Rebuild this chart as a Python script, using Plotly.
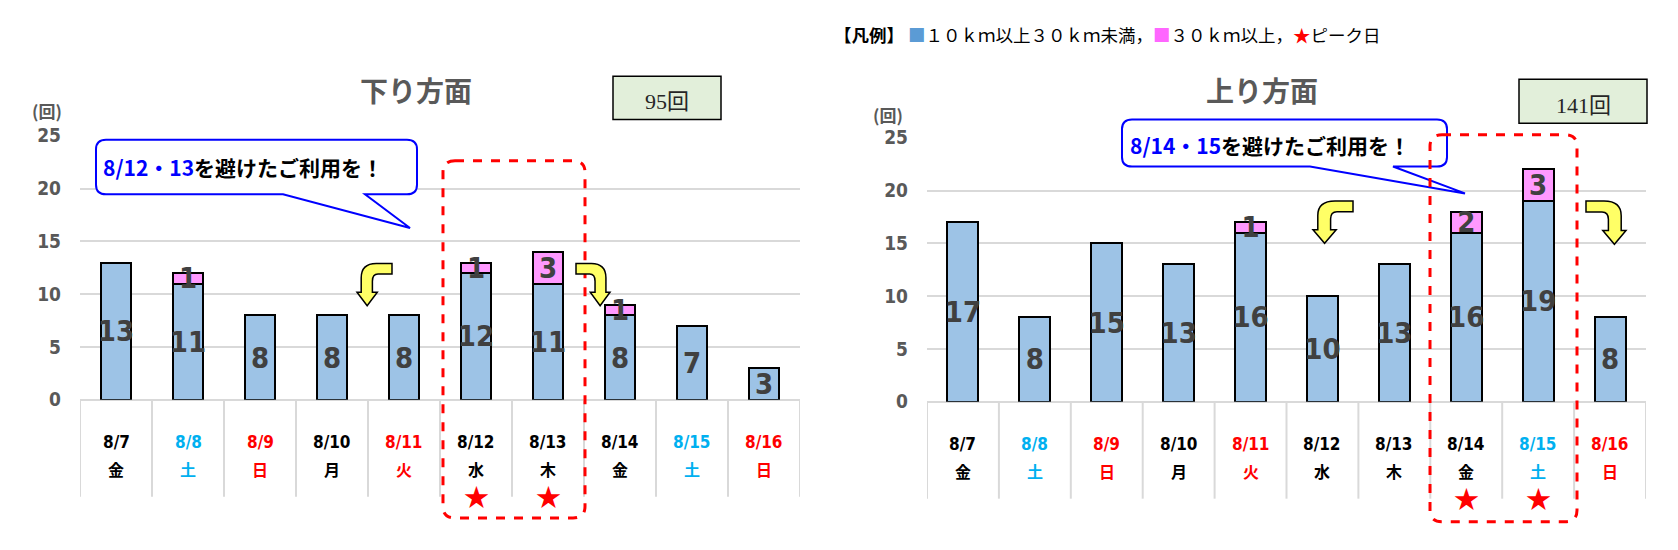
import plotly.graph_objects as go

W, H = 1678, 550

# ---- data ----
dates = ["8/7", "8/8", "8/9", "8/10", "8/11", "8/12", "8/13", "8/14", "8/15", "8/16"]
weekdays = ["金", "土", "日", "月", "火", "水", "木", "金", "土", "日"]
day_colors = ["#000000", "#00b0f0", "#ff0000", "#000000", "#ff0000",
              "#000000", "#000000", "#000000", "#00b0f0", "#ff0000"]

down_10_30 = [13, 11, 8, 8, 8, 12, 11, 8, 7, 3]
down_30 = [0, 1, 0, 0, 0, 1, 3, 1, 0, 0]
down_peak = ["8/12", "8/13"]

up_10_30 = [17, 8, 15, 13, 16, 10, 13, 16, 19, 8]
up_30 = [0, 0, 0, 0, 1, 0, 0, 2, 3, 0]
up_peak = ["8/14", "8/15"]

BLUE = "#9dc3e6"
PINK = "#ff99ff"
NUM_FONT = "Liberation Sans Narrow, DejaVu Sans Condensed, Arial Narrow, sans-serif"
JP_FONT = "Noto Sans CJK JP, sans-serif"


def X(x):
    return x / W


def Y(y):
    return 1 - y / H


def pt(x, y):
    return f"{X(x):.5f},{Y(y):.5f}"


def rounded_path(x0, y0, x1, y1, r, tail=None):
    p = f"M {pt(x0 + r, y0)} L {pt(x1 - r, y0)} Q {pt(x1, y0)} {pt(x1, y0 + r)} "
    p += f"L {pt(x1, y1 - r)} Q {pt(x1, y1)} {pt(x1 - r, y1)} "
    if tail:
        ta, tb, tx, ty = tail
        p += f"L {pt(tb, y1)} L {pt(tx, ty)} L {pt(ta, y1)} "
    p += f"L {pt(x0 + r, y1)} Q {pt(x0, y1)} {pt(x0, y1 - r)} "
    p += f"L {pt(x0, y0 + r)} Q {pt(x0, y0)} {pt(x0 + r, y0)} Z"
    return p


def arrow_path(x0, y0, x1, y1, mirror=False):
    # curved arrow: comes in horizontally at top, bends and points down
    w, h = x1 - x0, y1 - y0
    rel = [("M", 1.0, 0.0), ("L", 0.55, 0.0), ("Q", 0.12, 0.0, 0.12, 0.34),
           ("L", 0.12, 0.68), ("L", 0.0, 0.68), ("L", 0.29, 1.0),
           ("L", 0.58, 0.68), ("L", 0.44, 0.68), ("L", 0.44, 0.42),
           ("Q", 0.44, 0.25, 0.60, 0.25), ("L", 1.0, 0.25)]
    out = []
    for seg in rel:
        cmd, vals = seg[0], seg[1:]
        coords = []
        for i in range(0, len(vals), 2):
            fx = 1 - vals[i] if mirror else vals[i]
            coords.append(pt(x0 + fx * w, y0 + vals[i + 1] * h))
        out.append(cmd + " " + " ".join(coords))
    return " ".join(out) + " Z"


def txt(x, y, text, font, xanchor="center", xref="paper", **kw):
    return dict(x=x, y=y, xref=xref, yref="paper", text=text, showarrow=False,
                xanchor=xanchor, yanchor="middle", font=font, **kw)


fig = go.Figure()

panels = [
    dict(xa="x", ya="y", xd=(80, 800), y0=405, y25=130, low=down_10_30, high=down_30,
         peak=down_peak, title="下り方面", tx=416, total="95回", box=(613, 68, 721, 113),
         unit=(47, 104), callout=(96, 134, 417, 191, (283, 365, 410, 226)),
         ctext="<b><span style='color:#0000ff'>8/12・13</span>を避けたご利用を！</b>", cx=101, cy=163,
         redbox=(443, 156, 585, 528),
         arrows=[((357, 263, 392, 307), False), ((576, 263, 610, 307), True)]),
    dict(xa="x2", ya="y2", xd=(927, 1646), y0=407, y25=132, low=up_10_30, high=up_30,
         peak=up_peak, title="上り方面", tx=1262, total="141回", box=(1519, 71, 1647, 117),
         unit=(888, 108), callout=(1122, 113, 1447, 162, (1310, 1393, 1465, 190)),
         ctext="<b><span style='color:#0000ff'>8/14・15</span>を避けたご利用を！</b>", cx=1128, cy=140,
         redbox=(1430, 129, 1577, 532),
         arrows=[((1313, 198, 1353, 242), False), ((1586, 198, 1626, 243), True)]),
]

annotations = []
shapes = []

for k, p in enumerate(panels):
    idx = list(range(len(dates)))
    for vals, color in ((p["low"], BLUE), (p["high"], PINK)):
        fig.add_trace(go.Bar(
            x=idx, y=vals, xaxis=p["xa"], yaxis=p["ya"], width=0.43,
            marker=dict(color=color, line=dict(color="#000000", width=2)),
            text=[str(v) if v else "" for v in vals], textposition="inside",
            insidetextanchor="middle", constraintext="none", textangle=0,
            textfont=dict(family=NUM_FONT, size=29, color="#404040", weight="bold"),
            showlegend=False, hoverinfo="skip", cliponaxis=False))

    axname = "xaxis" if k == 0 else "xaxis2"
    ayname = "yaxis" if k == 0 else "yaxis2"
    fig.update_layout(**{
        axname: dict(domain=[X(p["xd"][0]), X(p["xd"][1])], range=[-0.5, 9.5],
                     showticklabels=False, showgrid=False, zeroline=False,
                     anchor=p["ya"], fixedrange=True),
        ayname: dict(domain=[Y(p["y0"]), Y(p["y25"])], range=[0, 25], dtick=5,
                     gridcolor="#d9d9d9", gridwidth=2, zeroline=True,
                     zerolinecolor="#d9d9d9", zerolinewidth=2,
                     tickfont=dict(family=NUM_FONT, size=19, color="#595959", weight="bold"),
                     ticklabelstandoff=18, anchor=p["xa"], showline=False),
    })

    # category separators below axis
    for i in range(len(dates) + 1):
        shapes.append(dict(type="line", xref=p["xa"], yref="paper", x0=i - 0.5, x1=i - 0.5,
                           y0=Y(p["y0"]), y1=Y(p["y0"] + 101),
                           line=dict(color="#d9d9d9", width=2), layer="below"))

    for i, (d, wd, c) in enumerate(zip(dates, weekdays, day_colors)):
        annotations.append(txt(i, Y(p["y0"] + 44), f"<b>{d}</b>",
                               dict(family=NUM_FONT, size=17, color=c), xref=p["xa"]))
        annotations.append(txt(i, Y(p["y0"] + 72), f"<b>{wd}</b>",
                               dict(family=JP_FONT, size=16, color=c), xref=p["xa"]))
        if d in p["peak"]:
            annotations.append(txt(i, Y(p["y0"] + 99), "★",
                                   dict(family=JP_FONT, size=25, color="#ff0000"), xref=p["xa"]))

    # title, total box, unit
    annotations.append(txt(X(p["tx"]), Y(82), f"<b>{p['title']}</b>",
                           dict(family=JP_FONT, size=28, color="#595959")))
    bx0, by0, bx1, by1 = p["box"]
    shapes.append(dict(type="rect", xref="paper", yref="paper", x0=X(bx0), x1=X(bx1),
                       y0=Y(by0), y1=Y(by1), fillcolor="#e2efda",
                       line=dict(color="#000000", width=1.5)))
    annotations.append(txt(X((bx0 + bx1) / 2), Y((by0 + by1) / 2 + 4), p["total"],
                           dict(family="Liberation Serif, Noto Sans CJK JP, serif",
                                size=22, color="#262626")))
    annotations.append(txt(X(p["unit"][0]), Y(p["unit"][1]), "<b>(回)</b>",
                           dict(family=JP_FONT, size=17, color="#595959")))

    # callout
    cx0, cy0, cx1, cy1, tail = p["callout"]
    shapes.append(dict(type="path", xref="paper", yref="paper",
                       path=rounded_path(cx0, cy0, cx1, cy1, 10, tail),
                       fillcolor="#ffffff", line=dict(color="#0000ff", width=2)))
    annotations.append(txt(X(p["cx"]), Y(p["cy"]), p["ctext"],
                           dict(family=JP_FONT, size=21, color="#000000"), xanchor="left"))

    # peak-day dashed box
    rx0, ry0, rx1, ry1 = p["redbox"]
    shapes.append(dict(type="path", xref="paper", yref="paper",
                       path=rounded_path(rx0, ry0, rx1, ry1, 12),
                       line=dict(color="#ff0000", width=3, dash="dash")))

    # yellow curved arrows
    for (ax0, ay0, ax1, ay1), mirror in p["arrows"]:
        shapes.append(dict(type="path", xref="paper", yref="paper",
                           path=arrow_path(ax0, ay0, ax1, ay1, mirror),
                           fillcolor="#ffff66", line=dict(color="#000000", width=1.5)))

# legend line at top
annotations.append(txt(
    X(832), Y(25),
    ("<b>【凡例】</b> <span style='color:#5b9bd5'>■</span>１０ｋｍ以上３０ｋｍ未満，"
     "<span style='color:#ff66ff'>■</span>３０ｋｍ以上，"
     "<span style='color:#ff0000'>★</span>ピーク日"),
    dict(family=JP_FONT, size=17.5, color="#000000"), xanchor="left"))

fig.update_layout(
    width=W, height=H, autosize=False, margin=dict(l=0, r=0, t=0, b=0),
    barmode="stack", plot_bgcolor="#ffffff", paper_bgcolor="#ffffff",
    annotations=annotations, shapes=shapes,
)

fig.write_html("out.html", config={"displayModeBar": False},
               post_script="document.body.style.margin='0';")
